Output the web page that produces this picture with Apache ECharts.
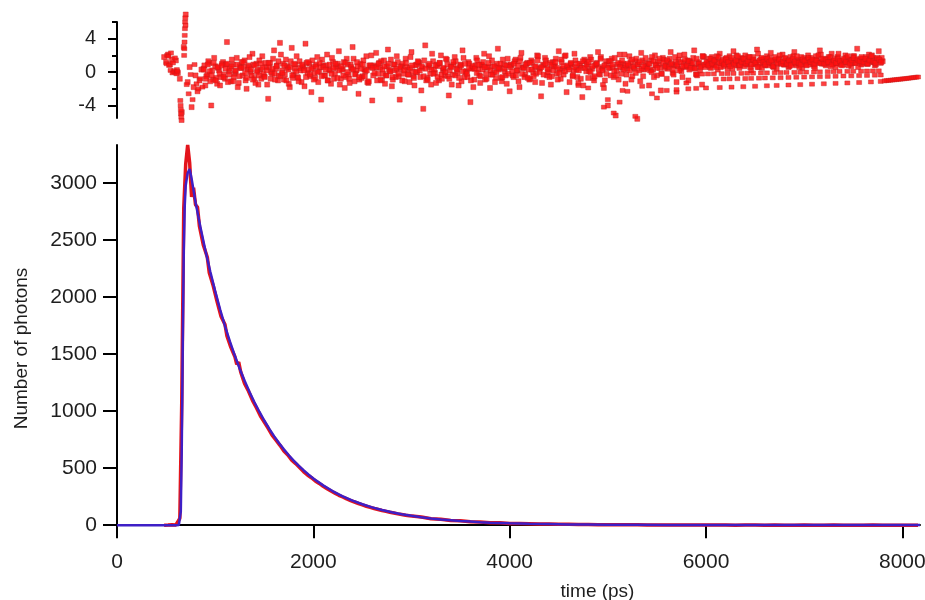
<!DOCTYPE html>
<html>
<head>
<meta charset="utf-8">
<script src="https://cdn.jsdelivr.net/npm/echarts@6/dist/echarts.min.js"></script>
<style>
html,body{margin:0;padding:0;background:#fff;}
#chart{width:925px;height:600px;}
</style>
</head>
<body>
<div id="chart"></div>
<script>
// ---------- data ----------
const xTicks = [0, 2000, 4000, 6000, 8000];
const countTicks = [0, 500, 1000, 1500, 2000, 2500, 3000];
const residMajorTicks = [-4, 0, 4];
const residMinorTicks = [-2, 2, 6];

// fitted decay (blue)
const fitTime = [0,600,630,650,660,670,680,690,700,720,740,760,800,850,900,950,1000,1050,1100,1150,1200,1250,1300,1350,1400,1450,1500,1550,1600,1650,1700,1750,1800,1850,1900,1950,2000,2100,2200,2300,2400,2500,2600,2700,2800,2900,3000,3100,3200,3300,3400,3500,3600,3700,3800,3900,4000,4200,4400,4600,4800,5000,5300,5600,6000,6500,7000,7500,8000,8180];
const fitCounts = [0,0,1,120,700,1600,2400,2800,2980,3090,3125,3040,2833,2614,2411,2225,2053,1894,1747,1612,1487,1372,1266,1168,1078,995,918,847,781,720,665,613,566,522,482,445,410,349,297,253,215,183,156,133,113,96,82,70,59,50,43,36,31,26,22,19,16,12,9,6,5,4,3,2,1.5,1,0.7,0.5,0.4,0.3];

// measured photon counts (red)
const decayTime = [480,500,520,540,560,580,600,620,640,660,680,700,720,740,760,
780,800,820,840,860,880,900,920,940,960,980,1000,1020,1040,1060,
1080,1100,1120,1140,1160,1180,1200,1220,1240,1260,1280,1300,1320,1340,1360,1380,1400,1420,1440,1460,
1480,1500,1520,1540,1560,1580,1600,1620,1640,1660,1680,1700,1720,1740,1760,1780,1800,1820,1840,1860,
1880,1900,1920,1940,1960,1980,2000,2020,2040,2060,2080,2100,2120,2140,2160,2180,2200,2220,2240,2260,
2280,2300,2320,2340,2360,2380,2400,2420,2440,2460,2480,2500,2520,2540,2560,2580,2600,2620,2640,2660,
2680,2700,2720,2740,2760,2780,2800,2820,2840,2860,2880,2900,2920,2940,2960,2980,3000,
3100,3200,3300,3400,3500,3600,3700,3800,3900,4000,4100,4200,4300,4400,4500,4600,4700,4800,4900,5000,
5100,5200,5300,5400,5500,5600,5700,5800,5900,6000,6100,6200,6300,6400,6500,6600,6700,6800,6900,7000,
7100,7200,7300,7400,7500,7600,7700,7800,7900,8000,8100,8160];
const decayCounts = [0,2,1,0,3,1,2,4,60,1100,2780,3170,3335,3180,2880,
2960,2810,2790,2620,2610,2455,2440,2350,2215,2225,2100,2090,1960,1950,1830,
1840,1760,1660,1665,1560,1570,1480,1410,1430,1345,1330,1240,1250,1175,1180,1095,1100,1030,1040,960,
975,905,915,850,855,790,800,745,760,700,705,650,665,615,625,570,582,540,552,505,
518,470,485,440,455,416,425,388,400,366,372,341,352,320,330,300,309,281,290,262,
272,247,255,230,240,216,224,203,210,190,197,178,186,166,174,156,163,146,152,137,
143,128,134,121,126,113,118,106,111,99,104,93,97,87,91,82,85,
72,57,52,41,38,29,27,21,20,15,14,12,10,9,7,7,5,5,4,4,
3,3,3,2,2,2,1,2,1,1,1,1,0,1,1,0,1,0,0,1,
0,0,1,0,0,0,1,0,0,0,0,0];

// weighted residuals (top panel), first set of channels
const residTime = [480,500,520,540,560,580,600,620,
640,660,680,700,
720,740,760,780,800,820,840,860,
880,900,920,940,960,980,1000,1020,1040,1060,
1080,1100,1120,1140,1160,1180,1200,1220,1240,1260,
1280,1300,1320,1340,1360,1380,1400,1420,1440,1460,
1480,1500,1520,1540,1560,1580,1600,1620,1640,1660,
1680,1700,1720,1740,1760,1780,1800,1820,1840,1860,
1880,1900,1920,1940,1960,1980,2000,2020,2040,2060,
2080,2100,2120,2140,2160,2180,2200,2220,2240,2260,
2280,2300,2320,2340,2360,2380,2400,2420,2440,2460,
2480,2500,2520,2540,2560,2580,2600,2620,2640,2660,
2680,2700,2720,2740,2760,2780,2800,2820,2840,2860,
2880,2900,2920,2940,2960,2980,3000,3020,3040,3060,
3080,3100,3120,3140,3160,3180,3200,3220,3240,3260,
3280,3300,3320,3340,3360,3380,3400,3420,3440,3460,
3480,3500,3520,3540,3560,3580,3600,3620,3640,3660,
3680,3700,3720,3740,3760,3780,3800,3820,3840,3860,
3880,3900,3920,3940,3960,3980,4000,
4020,4040,4060,4080,4100,4120,4140,4160,4180,4200,
4220,4240,4260,4280,4300,4320,4340,4360,4380,4400,
4420,4440,4460,4480,4500,4520,4540,4560,4580,4600,
4620,4640,4660,4680,4700,4720,4740,4760,4780,4800,
4820,4840,4860,4880,4900,4920,4940,4960,4980,5000,
5020,5040,5060,5080,5100,5120,5140,5160,5180,5200,
5220,5240,5260,5280,5300,5320,5340,5360,5380,5400,
5420,5440,5460,5480,5500,5520,5540,5560,5580,5600,
5620,5640,5660,5680,5700,5720,5740,5760,5780,5800,
5820,5840,5860,5880,5900,5920,5940,5960,5980,6000,
6020,6040,6060,6080,6100,6120,6140,6160,6180,6200,
6220,6240,6260,6280,6300,6320,6340,6360,6380,6400,
6420,6440,6460,6480,6500,6520,6540,6560,6580,6600,
6620,6640,6660,6680,6700,6720,6740,6760,6780,6800,
6820,6840,6860,6880,6900,6920,6940,6960,6980,7000,
7020,7040,7060,7080,7100,7120,7140,7160,7180,7200,
7220,7240,7260,7280,7300,7320,7340,7360,7380,7400,
7420,7440,7460,7480,7500,7520,7540,7560,7580,7600,
7620,7640,7660,7680,7700,7720,7740,7760,7780,7800];
const residValue = [1.8,1.2,2.1,0.9,1.5,0.1,1.4,-0.1,
-0.8,-4.8,3.0,6.9,
-1.2,0.6,-4.2,-1.8,-0.4,-2.3,-1.0,0.3,
0.4,-1.6,-0.3,1.1,-4.0,-0.9,0.7,-1.4,0.2,-0.6,
1.2,-0.8,3.6,0.1,-1.1,0.9,-0.2,1.7,-1.3,0.5,
-0.4,1.4,-2.0,0.8,0.0,2.2,-0.7,1.0,-1.5,0.3,
1.9,-0.5,0.6,-3.2,1.1,-0.2,2.6,0.4,-1.0,3.5,
0.2,-0.9,1.5,0.7,-1.8,2.9,-0.3,0.9,-0.6,1.3,
-1.2,0.5,3.4,-0.1,1.0,-2.4,0.6,-0.7,1.8,0.1,
-3.3,0.8,-0.4,2.1,0.3,-1.4,1.2,-0.2,0.7,2.5,
-0.8,0.4,-1.9,1.6,-0.3,0.9,3.0,-1.1,0.2,-2.6,
1.0,-0.5,0.3,1.9,-1.3,0.6,-3.4,0.8,2.3,-0.2,
0.5,-1.0,1.4,-0.4,2.7,0.1,-1.7,0.9,-0.6,1.2,
-3.3,0.7,-0.2,1.6,0.3,-1.2,2.4,-0.5,0.8,0.0,
1.1,-2.2,-4.4,3.2,-0.7,0.6,-1.5,1.3,-0.1,0.9,
-1.0,2.0,0.2,-0.4,1.5,-2.8,0.7,-0.3,1.8,0.4,
-1.6,0.9,2.6,-0.6,0.1,1.2,-3.6,0.5,-0.9,1.7,
0.3,-1.3,0.8,2.2,-0.2,0.6,-1.9,1.4,0.0,-0.7,
2.8,0.5,-1.1,0.9,-0.4,1.6,-2.3,
0.8,-0.6,1.5,0.2,-1.8,2.3,0.6,-0.3,1.1,-0.9,
1.4,0.0,-1.2,2.0,0.5,-2.9,0.9,1.7,-0.4,0.3,
-1.5,1.2,0.7,-0.2,2.5,-0.8,0.4,1.9,-2.4,0.6,
1.0,-0.5,2.2,0.3,-1.3,0.8,-3.0,1.5,0.1,-0.7,
1.8,0.4,-1.0,0.9,2.4,-0.3,0.6,-1.9,1.3,-4.0,
0.5,1.6,-0.6,-5.2,0.9,2.1,-0.2,1.0,-1.4,0.4,
1.9,-0.9,0.7,1.3,-5.6,0.2,2.3,-0.5,1.1,0.6,
-1.6,1.4,0.3,2.0,-0.4,0.9,-2.2,1.7,0.5,-0.8,
1.2,2.4,-0.1,0.8,-1.2,1.5,0.4,-0.6,2.1,0.7,
-1.0,1.3,0.6,2.6,-0.3,1.0,0.2,-1.5,1.8,0.9,
1.2,0.6,1.8,0.9,1.5,0.3,2.2,1.0,0.7,1.6,
0.4,1.9,1.1,2.5,0.8,1.3,0.5,1.7,1.0,2.0,
0.9,1.4,0.2,1.8,1.1,2.7,0.6,1.5,1.2,0.8,
1.9,1.0,2.3,0.7,1.4,0.4,1.6,1.1,2.1,0.9,
1.3,0.6,1.8,1.0,2.4,0.8,1.5,1.2,0.5,1.7,
1.1,2.0,0.9,1.4,0.7,1.9,1.2,2.6,1.0,1.5,
0.8,1.6,1.3,2.2,1.0,0.6,1.8,1.1,1.4,0.9,
2.0,1.2,1.5,0.7,1.9,1.1,2.8,1.3,0.9,1.6,
1.4,1.0,2.1,1.2,1.7,0.8,1.5,2.5,1.1,1.3];

// weighted residuals, interleaved channels (second set)
const residTime2 = [890,910,930,950,970,990,1010,1030,1050,1070,
1090,1110,1130,1150,1170,1190,1210,1230,1250,1270,
1290,1310,1330,1350,1370,1390,1410,1430,1450,1470,
1490,1510,1530,1550,1570,1590,1610,1630,1650,1670,
1690,1710,1730,1750,1770,1790,1810,1830,1850,1870,
1890,1910,1930,1950,1970,1990,2010,2030,2050,2070,
2090,2110,2130,2150,2170,2190,2210,2230,2250,2270,
2290,2310,2330,2350,2370,2390,2410,2430,2450,2470,
2490,2510,2530,2550,2570,2590,2610,2630,2650,2670,
2690,2710,2730,2750,2770,2790,2810,2830,2850,2870,
2890,2910,2930,2950,2970,2990,3010,3030,3050,3070,
3090,3110,3130,3150,3170,3190,3210,3230,3250,3270,
3290,3310,3330,3350,3370,3390,3410,3430,3450,3470,
3490,3510,3530,3550,3570,3590,3610,3630,3650,3670,
3690,3710,3730,3750,3770,3790,3810,3830,3850,3870,
3890,3910,3930,3950,3970,3990,
4010,4030,4050,4070,4090,4110,4130,4150,4170,4190,
4210,4230,4250,4270,4290,4310,4330,4350,4370,4390,
4410,4430,4450,4470,4490,4510,4530,4550,4570,4590,
4610,4630,4650,4670,4690,4710,4730,4750,4770,4790,
4810,4830,4850,4870,4890,4910,4930,4950,4970,4990,
5010,5030,5050,5070,5090,5110,5130,5150,5170,5190,
5210,5230,5250,5270,5290,5310,5330,5350,5370,5390,
5410,5430,5450,5470,5490,5510,5530,5550,5570,5590,
5610,5630,5650,5670,5690,5710,5730,5750,5770,5790,
5810,5830,5850,5870,5890,5910,5930,5950,5970,5990,
6010,6030,6050,6070,6090,6110,6130,6150,6170,6190,
6210,6230,6250,6270,6290,6310,6330,6350,6370,6390,
6410,6430,6450,6470,6490,6510,6530,6550,6570,6590,
6610,6630,6650,6670,6690,6710,6730,6750,6770,6790,
6810,6830,6850,6870,6890,6910,6930,6950,6970,6990,
7010,7030,7050,7070,7090,7110,7130,7150,7170,7190,
7210,7230,7250,7270,7290,7310,7330,7350,7370,7390,
7410,7430,7450,7470,7490,7510,7530,7550,7570,7590,
7610,7630,7650,7670,7690,7710,7730,7750,7770,7790];
const residValue2 = [0.8,-0.5,1.3,-1.1,0.2,1.7,-0.7,0.5,-1.6,1.0,
-0.3,0.9,-1.2,0.4,1.5,-0.6,0.1,-1.8,0.7,1.2,
0.6,-1.0,0.3,1.8,-0.4,0.9,-1.3,0.2,1.4,-0.8,
-0.2,1.1,-1.5,0.6,0.0,1.6,-0.9,0.8,-0.4,2.1,
1.0,-0.3,0.5,-1.4,1.3,-0.7,0.4,1.9,-1.1,0.2,
0.7,-1.7,1.1,0.3,-0.5,1.4,-0.1,0.9,-1.2,0.6,
1.5,-0.4,0.8,-1.0,0.2,1.7,-0.8,0.5,1.0,-1.5,
0.3,1.2,-0.6,0.9,-1.3,0.4,1.6,-0.2,0.7,-0.9,
-0.7,1.4,0.1,-1.2,0.8,2.0,-0.4,0.6,-1.0,1.1,
1.3,-0.2,-1.4,0.7,0.3,1.5,-0.9,0.2,1.9,-0.5,
0.4,1.0,-1.1,0.6,-0.3,1.8,0.1,-1.6,0.9,1.2,
-0.6,0.5,1.4,-1.0,0.8,-0.2,2.2,0.3,-1.3,0.7,
1.1,-0.8,0.4,1.6,-0.5,0.2,-1.5,0.9,1.3,-0.1,
0.6,-1.1,1.7,0.0,-0.6,1.0,0.4,-1.8,0.8,1.4,
-0.4,0.9,1.2,-0.9,0.5,1.9,-0.3,0.7,-1.2,1.0,
0.3,-0.7,1.5,0.1,-1.4,0.8,
0.9,-0.4,1.3,0.2,-1.1,1.7,0.5,-0.6,1.0,0.3,
-0.8,1.2,0.6,-0.2,1.9,0.4,-1.3,0.8,1.4,0.0,
1.1,-0.5,0.7,1.6,-0.9,0.3,1.2,-0.3,2.0,0.6,
-1.2,0.9,0.2,1.4,-0.6,1.0,0.5,-1.6,1.3,0.7,
0.1,1.5,-0.7,0.8,1.1,-0.2,1.8,0.4,-1.0,0.9,
1.3,-0.4,0.6,1.7,0.2,-0.9,1.0,0.5,2.1,-0.3,
0.8,1.2,-0.5,0.4,1.6,0.9,-1.1,1.4,0.3,0.7,
1.0,0.2,1.8,-0.6,0.9,1.3,0.5,-0.2,1.5,0.8,
0.4,1.6,0.9,-0.3,1.2,0.7,2.0,0.1,1.1,0.6,
1.4,0.3,1.0,1.7,0.5,-0.4,1.2,0.8,1.9,0.6,
1.0,1.6,0.5,1.3,0.8,1.9,1.2,0.6,1.5,1.1,
1.7,0.9,1.4,0.4,1.2,2.0,0.8,1.3,1.6,0.7,
1.1,1.8,0.6,1.4,0.9,1.2,2.2,1.0,0.5,1.6,
1.3,0.8,1.7,1.1,0.6,1.5,1.0,2.0,1.2,0.9,
1.6,1.1,0.7,1.4,1.9,1.0,1.3,0.6,1.8,1.2,
0.9,1.5,1.2,1.7,1.0,0.5,1.4,1.1,2.1,1.3,
1.5,1.0,1.8,0.7,1.3,1.6,1.1,2.2,0.9,1.4,
1.2,1.7,0.8,1.5,1.1,1.9,1.4,0.6,1.6,1.0,
1.3,1.8,1.0,1.5,2.0,1.2,0.9,1.6,1.4,1.7];

// weighted residuals, interleaved channels (third set)
const residTime3 = [885,905,925,945,965,985,1005,1025,1045,1065,
1085,1105,1125,1145,1165,1185,1205,1225,1245,1265,
1285,1305,1325,1345,1365,1385,1405,1425,1445,1465,
1485,1505,1525,1545,1565,1585,1605,1625,1645,1665,
1685,1705,1725,1745,1765,1785,1805,1825,1845,1865,
1885,1905,1925,1945,1965,1985,2005,2025,2045,2065,
2085,2105,2125,2145,2165,2185,2205,2225,2245,2265,
2285,2305,2325,2345,2365,2385,2405,2425,2445,2465,
2485,2505,2525,2545,2565,2585,2605,2625,2645,2665,
2685,2705,2725,2745,2765,2785,2805,2825,2845,2865,
2885,2905,2925,2945,2965,2985,3005,3025,3045,3065,
3085,3105,3125,3145,3165,3185,3205,3225,3245,3265,
3285,3305,3325,3345,3365,3385,3405,3425,3445,3465,
3485,3505,3525,3545,3565,3585,3605,3625,3645,3665,
3685,3705,3725,3745,3765,3785,3805,3825,3845,3865,
3885,3905,3925,3945,3965,3985,
4005,4025,4045,4065,4085,4105,4125,4145,4165,4185,
4205,4225,4245,4265,4285,4305,4325,4345,4365,4385,
4405,4425,4445,4465,4485,4505,4525,4545,4565,4585,
4605,4625,4645,4665,4685,4705,4725,4745,4765,4785,
4805,4825,4845,4865,4885,4905,4925,4945,4965,4985,
5005,5025,5045,5065,5085,5105,5125,5145,5165,5185,
5205,5225,5245,5265,5285,5305,5325,5345,5365,5385,
5405,5425,5445,5465,5485,5505,5525,5545,5565,5585,
5605,5625,5645,5665,5685,5705,5725,5745,5765,5785,
5805,5825,5845,5865,5885,5905,5925,5945,5965,5985,
6005,6025,6045,6065,6085,6105,6125,6145,6165,6185,
6205,6225,6245,6265,6285,6305,6325,6345,6365,6385,
6405,6425,6445,6465,6485,6505,6525,6545,6565,6585,
6605,6625,6645,6665,6685,6705,6725,6745,6765,6785,
6805,6825,6845,6865,6885,6905,6925,6945,6965,6985,
7005,7025,7045,7065,7085,7105,7125,7145,7165,7185,
7205,7225,7245,7265,7285,7305,7325,7345,7365,7385,
7405,7425,7445,7465,7485,7505,7525,7545,7565,7585,
7605,7625,7645,7665,7685,7705,7725,7745,7765,7785];
const residValue3 = [0.3,-0.8,0.9,0.1,-0.4,1.1,-1.0,0.6,-0.2,0.8,
-0.6,0.4,1.0,-0.3,0.7,-1.1,0.2,0.9,-0.5,0.5,
1.2,-0.1,-0.7,0.6,0.3,-0.9,0.8,0.0,-0.4,1.0,
0.5,-0.6,0.2,1.1,-0.8,0.4,-0.2,0.7,1.3,-0.5,
-0.1,0.8,-1.0,0.3,0.6,-0.4,1.0,0.1,-0.7,0.5,
0.9,0.2,-0.6,1.2,-0.3,0.4,-0.9,0.7,0.0,1.1,
-0.5,0.6,0.3,-1.0,0.9,-0.2,0.5,1.0,-0.7,0.2,
0.7,-0.4,1.1,0.0,-0.8,0.6,0.3,-0.3,1.2,-0.6,
0.4,0.9,-0.5,0.2,-1.1,0.8,0.5,-0.1,0.6,1.0,
-0.9,0.3,0.7,-0.4,1.0,0.1,-0.6,0.9,0.4,-0.2,
0.6,-1.0,0.2,1.1,-0.3,0.5,0.8,-0.7,0.0,1.3,
0.2,0.7,-0.5,0.4,-0.9,1.0,0.3,-0.2,0.8,-0.6,
1.1,-0.3,0.5,0.0,0.9,-0.8,0.6,1.2,-0.4,0.3,
-0.7,0.8,0.1,1.0,-0.2,0.5,-1.0,0.7,0.4,-0.1,
0.9,-0.5,0.3,0.6,-0.8,1.1,0.2,-0.3,0.7,0.0,
0.5,1.0,-0.6,0.4,0.8,-0.2,
0.6,0.1,1.0,-0.4,0.8,1.3,-0.2,0.5,0.9,-0.7,
1.1,0.3,-0.5,0.7,1.4,0.0,0.6,-0.3,1.0,0.4,
-0.6,0.9,0.2,1.2,0.5,-0.1,1.5,0.7,0.1,0.8,
0.3,1.1,-0.4,0.6,1.0,0.2,-0.8,1.3,0.5,0.9,
1.2,0.0,0.7,-0.5,1.0,0.4,1.6,0.2,0.8,-0.2,
0.5,1.3,0.9,0.1,-0.4,1.1,0.6,1.4,0.3,0.8,
1.0,0.2,1.5,0.6,-0.1,0.9,1.2,0.4,0.7,1.7,
0.4,1.0,0.0,1.3,0.8,0.5,1.6,-0.2,1.1,0.7,
1.4,0.6,1.0,0.3,1.8,0.9,0.2,1.2,0.7,1.5,
0.8,1.3,0.5,1.1,0.4,1.6,1.0,0.6,1.9,0.9,
1.2,0.8,1.6,1.0,1.4,0.6,1.8,1.1,1.3,0.9,
1.5,1.2,0.7,1.7,1.0,1.4,1.9,0.8,1.2,1.6,
1.0,1.3,1.8,0.9,1.5,1.1,0.6,1.4,1.7,1.2,
0.9,1.6,1.2,1.4,0.7,1.8,1.1,1.5,1.0,1.3,
1.7,1.0,1.4,0.8,1.6,1.2,1.9,1.1,0.9,1.5,
1.3,0.8,1.7,1.2,1.5,1.0,1.4,2.0,1.1,1.6,
1.0,1.5,1.2,1.8,0.9,1.4,1.1,1.6,1.3,0.8,
1.6,1.2,1.9,1.0,1.4,1.7,1.1,1.5,1.3,1.8,
1.2,1.6,1.0,1.4,1.9,1.3,1.1,1.7,1.5,1.2];

// additional residual points: rise spike, outliers and the low-count bands
const extraTime = [505,510,525,530,545,550,565,570,585,590,605,610,615,
645,648,650,652,655,658,
684,686,688,690,692,694,696,698,
710,730,750,770,790,810,830,850,870,
4700,4800,4950,4960,5000,5060,5120,5150,5200,5280,5350,5450,5500,5700,5800,
5900,5960,6020,6080,6160,6220,6280,6360,6420,6480,6560,6620,6700,6760,6820,6900,6960,7020,7100,7160,7240,7300,7360,7440,7500,7580,7640,7700,7760,
6100,6180,6240,6320,6400,6460,6540,6600,6680,6760,6840,6920,7000,7080,7160,7240,7320,7400,7480,7560,7640,7720,7780,
5600,5700,5820,5900,6000,6140,6260,6380,6500,6620,6720,6840,6960,7080,7200,7320,7440,7560,7680,7780,
7820,7840,7860,7880,7900,7920,7940,7960,7980,8000,8020,8040,8060,8080,8100,8120,8140,8160];
const extraValue = [1.0,2.0,1.9,0.8,0.2,2.3,-0.1,1.1,0.0,1.7,-0.2,0.3,0.1,
-3.4,-4.0,-4.5,-5.0,-5.4,-5.8,
2.0,2.8,3.6,4.4,5.2,6.0,6.5,5.6,
-1.5,-2.6,-0.3,-3.3,0.9,-1.4,-2.0,-0.8,-1.8,
-1.6,-1.9,-1.5,-4.2,-3.3,-4.9,-3.6,-2.2,-2.3,-5.3,-1.7,-2.6,-3.1,-2.4,-1.3,
-0.25,-0.24,-0.22,-0.21,-0.19,-0.18,-0.16,-0.15,-0.13,-0.12,-0.1,-0.09,-0.07,-0.06,-0.04,-0.03,-0.01,0.0,0.02,0.03,0.05,0.06,0.08,0.09,0.1,0.11,0.13,0.14,0.15,
-0.85,-0.83,-0.81,-0.79,-0.77,-0.75,-0.73,-0.71,-0.69,-0.67,-0.64,-0.62,-0.6,-0.57,-0.55,-0.52,-0.5,-0.47,-0.45,-0.42,-0.4,-0.37,-0.35,
-2.2,-2.1,-2.0,-1.95,-1.9,-1.85,-1.8,-1.75,-1.7,-1.64,-1.6,-1.55,-1.5,-1.45,-1.4,-1.35,-1.3,-1.25,-1.18,-1.12,
-1.05,-1.02,-1.0,-0.97,-0.95,-0.92,-0.9,-0.87,-0.85,-0.82,-0.8,-0.77,-0.74,-0.71,-0.68,-0.65,-0.62,-0.59];

// ---------- chart ----------
const zip = (a, b) => a.map((v, i) => [v, b[i]]);
const FONT = '"Liberation Sans", Arial, sans-serif';
const TXT = '#1e1e1e';
const plain = v => String(v);
const residStyle = { color: '#ff1010', borderColor: '#c41c1c', borderWidth: 0.5 };
const residSeries = (data, size) => ({
  type: 'scatter', xAxisIndex: 0, yAxisIndex: 0, clip: false,
  symbol: 'rect', symbolSize: size, itemStyle: residStyle, data
});

const chart = echarts.init(document.getElementById('chart'), null, { renderer: 'canvas' });
chart.setOption({
  animation: false,
  backgroundColor: '#ffffff',
  grid: [
    { left: 117, right: 5, top: 22, height: 96, outerBoundsMode: 'none', containLabel: false },
    { left: 117, right: 5, top: 145, height: 383, outerBoundsMode: 'none', containLabel: false }
  ],
  xAxis: [
    { gridIndex: 0, type: 'value', min: 0, max: 8180, show: false },
    {
      gridIndex: 1, type: 'value', min: 0, max: 8180, interval: 2000, offset: 3,
      axisLine: { lineStyle: { color: '#000', width: 2 } },
      axisTick: { length: 13, lineStyle: { color: '#000', width: 2 } },
      axisLabel: { margin: 21, fontSize: 21, color: TXT, fontFamily: FONT, formatter: plain },
      splitLine: { show: false },
      name: 'time (ps)', nameLocation: 'middle', nameGap: 51,
      nameTextStyle: { fontSize: 19, color: TXT, fontFamily: FONT, padding: [0, 0, 0, 158] }
    }
  ],
  yAxis: [
    {
      gridIndex: 0, type: 'value', min: -5.5, max: 6,
      axisLine: { show: true, lineStyle: { color: '#000', width: 2 } },
      axisTick: { customValues: residMajorTicks, length: 9, lineStyle: { color: '#000', width: 2 } },
      axisLabel: { customValues: residMajorTicks, margin: 21, fontSize: 20, color: TXT, fontFamily: FONT, formatter: plain },
      splitLine: { show: false }
    },
    {
      gridIndex: 0, type: 'value', min: -5.5, max: 6, position: 'left',
      axisLine: { show: false },
      axisTick: { customValues: residMinorTicks, length: 5, lineStyle: { color: '#000', width: 2 } },
      axisLabel: { show: false },
      splitLine: { show: false }
    },
    {
      gridIndex: 1, type: 'value', min: -25, max: 3335,
      axisLine: { show: true, lineStyle: { color: '#000', width: 2 } },
      axisTick: { customValues: countTicks, length: 14, lineStyle: { color: '#000', width: 2 } },
      axisLabel: { customValues: countTicks, margin: 20, fontSize: 21, color: TXT, fontFamily: FONT, formatter: plain },
      splitLine: { show: false },
      name: 'Number of photons', nameLocation: 'middle', nameGap: 86,
      nameTextStyle: { fontSize: 19, color: TXT, fontFamily: FONT, padding: [0, 24, 0, 0] }
    }
  ],
  series: [
    residSeries(zip(residTime, residValue), [5, 5]),
    residSeries(zip(residTime2, residValue2), [5, 5]),
    residSeries(zip(residTime3, residValue3), [5, 5]),
    residSeries(zip(extraTime, extraValue), [5, 4]),
    {
      type: 'line', xAxisIndex: 1, yAxisIndex: 2, showSymbol: false,
      lineStyle: { color: '#e3141c', width: 3.5 },
      data: zip(decayTime, decayCounts)
    },
    {
      type: 'line', xAxisIndex: 1, yAxisIndex: 2, showSymbol: false,
      lineStyle: { color: '#3e1fc6', width: 2.5 },
      data: zip(fitTime, fitCounts)
    }
  ]
});
</script>
</body>
</html>
